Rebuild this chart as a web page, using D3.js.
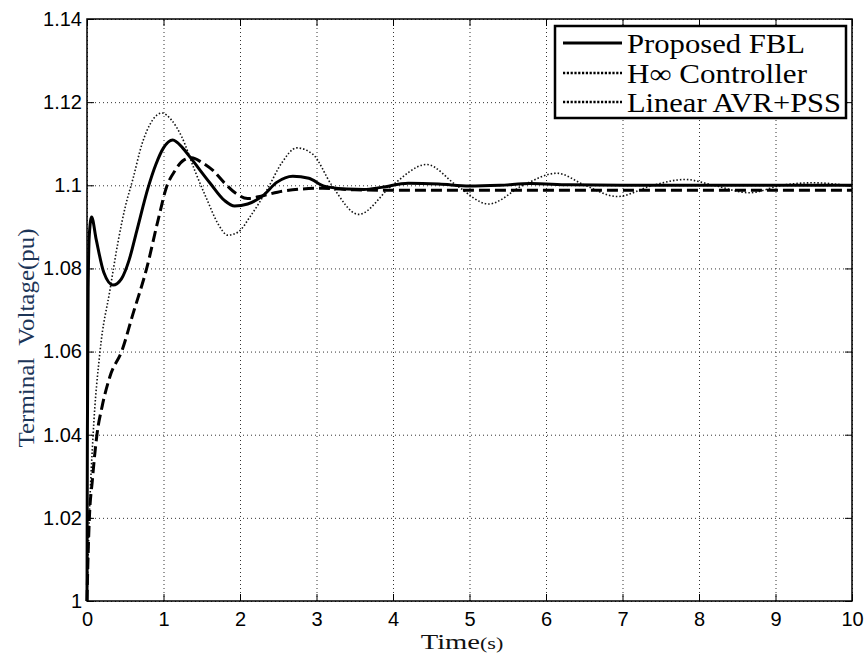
<!DOCTYPE html>
<html>
<head>
<meta charset="utf-8">
<script src="https://cdn.jsdelivr.net/npm/d3@7"></script>
<style>
  body { margin: 0; background: #fff; }
  svg { display: block; }
</style>
</head>
<body>
<div id="chart"></div>
<script>
// terminal voltage response, three controllers

const width = 865;
const height = 654;
const margin = {left: 87, right: 13, top: 19, bottom: 53};

// axis ticks
const xTicks = [0, 1, 2, 3, 4, 5, 6, 7, 8, 9, 10];
const xTickLabels = ["0", "1", "2", "3", "4", "5", "6", "7", "8", "9", "10"];
const yTicks = [1, 1.02, 1.04, 1.06, 1.08, 1.1, 1.12, 1.14];
const yTickLabels = ["1", "1.02", "1.04", "1.06", "1.08", "1.1", "1.12", "1.14"];

// series names (legend order)
const seriesNames = ["Proposed FBL", "H\u221E Controller", "Linear AVR+PSS"];

// Proposed FBL (solid)
const fblT = [0, 0.005, 0.015, 0.03, 0.06, 0.12, 0.22, 0.34, 0.45, 0.55, 0.65, 0.8, 0.9, 1.0, 1.12, 1.25, 1.35, 1.61, 1.8, 1.93, 2.1, 2.3, 2.48, 2.69, 2.9, 3.1, 3.4, 3.62, 3.85, 4.2, 4.6, 5.0, 5.4, 5.8, 6.3, 7, 8, 9, 10];
const fblV = [1.0, 1.04, 1.075, 1.088, 1.0924, 1.087, 1.079, 1.076, 1.0775, 1.082, 1.089, 1.0995, 1.105, 1.109, 1.1109, 1.109, 1.1067, 1.1005, 1.0963, 1.095, 1.0955, 1.0975, 1.1007, 1.1022, 1.1017, 1.0998, 1.0991, 1.099, 1.0995, 1.1005, 1.1003, 1.0998, 1.1, 1.1004, 1.1001, 1.1, 1.1, 1.1, 1.1];

// H-infinity controller (dashed)
const hinfT = [0, 0.01, 0.03, 0.07, 0.13, 0.2, 0.3, 0.46, 0.6, 0.78, 0.93, 1.04, 1.15, 1.26, 1.37, 1.5, 1.65, 1.8, 1.95, 2.1, 2.3, 2.56, 3.08, 3.5, 4, 5, 6, 7, 8, 9, 10];
const hinfV = [1.0, 1.008, 1.0195, 1.029, 1.04, 1.047, 1.054, 1.0604, 1.069, 1.08, 1.0917, 1.0996, 1.1035, 1.106, 1.1066, 1.1055, 1.1035, 1.1005, 1.098, 1.0968, 1.0975, 1.0986, 1.0993, 1.0989, 1.0988, 1.0988, 1.0988, 1.0988, 1.0988, 1.0988, 1.0988];

// Linear AVR+PSS (thin dotted)
const avrT = [0, 0.03, 0.08, 0.17, 0.3, 0.41, 0.5, 0.6, 0.72, 0.85, 0.98, 1.1, 1.24, 1.41, 1.57, 1.72, 1.84, 1.98, 2.13, 2.35, 2.55, 2.74, 2.95, 3.2, 3.55, 3.99, 4.44, 4.83, 5.25, 5.7, 6.14, 6.51, 6.93, 7.4, 7.82, 8.19, 8.66, 9.08, 9.5, 10];
const avrV = [1.0, 1.02, 1.04, 1.06, 1.0748, 1.0868, 1.0948, 1.1015, 1.11, 1.1155, 1.1174, 1.1158, 1.1116, 1.1035, 1.0965, 1.0905, 1.088, 1.0888, 1.0924, 1.0988, 1.1055, 1.109, 1.1075, 1.1, 1.093, 1.1, 1.105, 1.1, 1.0955, 1.1, 1.1029, 1.1, 1.0973, 1.1, 1.1014, 1.1, 1.0982, 1.1, 1.1006, 1.0998];

const svg = d3.select("#chart")
  .append("svg")
  .attr("width", width)
  .attr("height", height);

const x = d3.scaleLinear()
  .domain([0, 10])
  .range([margin.left, width - margin.right]);

const y = d3.scaleLinear()
  .domain([1, 1.14])
  .range([height - margin.bottom, margin.top]);

const plotW = width - margin.left - margin.right;
const plotH = height - margin.top - margin.bottom;

// dotted grid
svg.append("g")
  .attr("transform", `translate(0,${height - margin.bottom})`)
  .call(d3.axisBottom(x).tickValues(xTicks).tickSize(-plotH).tickFormat(""))
  .call(g => g.select(".domain").remove())
  .call(g => g.selectAll("line").attr("stroke", "#333").attr("stroke-width", 1).attr("stroke-dasharray", "1,3"));

svg.append("g")
  .attr("transform", `translate(${margin.left},0)`)
  .call(d3.axisLeft(y).tickValues(yTicks).tickSize(-plotW).tickFormat(""))
  .call(g => g.select(".domain").remove())
  .call(g => g.selectAll("line").attr("stroke", "#333").attr("stroke-width", 1).attr("stroke-dasharray", "1,3"));

// curves
const line = d3.line()
  .x(d => x(d[0]))
  .y(d => y(d[1]))
  .curve(d3.curveMonotoneX);

const avrData = avrT.map((t, i) => [t, avrV[i]]);
const hinfData = hinfT.map((t, i) => [t, hinfV[i]]);
const fblData = fblT.map((t, i) => [t, fblV[i]]);

svg.append("path")
  .datum(avrData)
  .attr("fill", "none")
  .attr("stroke", "#111")
  .attr("stroke-width", 1.6)
  .attr("stroke-dasharray", "1.5,2")
  .attr("d", line);

svg.append("path")
  .datum(hinfData)
  .attr("fill", "none")
  .attr("stroke", "#000")
  .attr("stroke-width", 3)
  .attr("stroke-dasharray", "11,5")
  .attr("d", line);

svg.append("path")
  .datum(fblData)
  .attr("fill", "none")
  .attr("stroke", "#000")
  .attr("stroke-width", 3)
  .attr("d", line);

// axes with inward ticks
svg.append("g")
  .attr("transform", `translate(0,${height - margin.bottom})`)
  .call(d3.axisBottom(x).tickValues(xTicks).tickSizeInner(-7).tickSizeOuter(0).tickPadding(11)
    .tickFormat((d, i) => xTickLabels[i]));

svg.append("g")
  .attr("transform", `translate(${margin.left},0)`)
  .call(d3.axisLeft(y).tickValues(yTicks).tickSizeInner(-7).tickSizeOuter(0).tickPadding(5)
    .tickFormat((d, i) => yTickLabels[i]));

// top and right ticks
svg.append("g")
  .attr("transform", `translate(0,${margin.top})`)
  .call(d3.axisTop(x).tickValues(xTicks).tickSizeInner(-7).tickSizeOuter(0).tickFormat(""));
svg.append("g")
  .attr("transform", `translate(${width - margin.right},0)`)
  .call(d3.axisRight(y).tickValues(yTicks).tickSizeInner(-7).tickSizeOuter(0).tickFormat(""));

svg.selectAll(".domain").remove();
svg.selectAll(".tick text")
  .attr("font-family", "'Liberation Sans', Arial, sans-serif")
  .attr("font-size", "20px")
  .attr("fill", "#000");

// frame
svg.append("rect")
  .attr("x", margin.left)
  .attr("y", margin.top)
  .attr("width", plotW)
  .attr("height", plotH)
  .attr("fill", "none")
  .attr("stroke", "#000")
  .attr("stroke-width", 1.5);

// axis labels
svg.append("text")
  .attr("transform", "translate(34,338) rotate(-90)")
  .attr("text-anchor", "middle")
  .attr("font-family", "'Liberation Serif', 'Times New Roman', serif")
  .attr("font-size", "24px")
  .attr("fill", "#1c3557")
  .attr("textLength", 219)
  .attr("lengthAdjust", "spacingAndGlyphs")
  .style("white-space", "pre")
  .text("Terminal  Voltage(pu)");

const xl = svg.append("text")
  .attr("transform", "translate(462,649) scale(1.3,1)")
  .attr("text-anchor", "middle")
  .attr("font-family", "'Liberation Serif', 'Times New Roman', serif")
  .attr("font-size", "22px")
  .attr("fill", "#111");
xl.append("tspan").text("Time");
xl.append("tspan").attr("font-size", "17px").text("(s)");

// legend
const legend = svg.append("g");
legend.append("rect")
  .attr("x", 555)
  .attr("y", 26)
  .attr("width", 291)
  .attr("height", 92)
  .attr("fill", "#fff")
  .attr("stroke", "#000")
  .attr("stroke-width", 2.5);

const legendStyles = [
  {w: 3, dash: null},
  {w: 2.5, dash: "2.2,1.6"},
  {w: 2.5, dash: "2.2,1.6"}
];
const legendLens = [178, 180, 214];

seriesNames.forEach((name, i) => {
  const ly = 43 + i * 29.5;
  legend.append("line")
    .attr("x1", 563).attr("x2", 622)
    .attr("y1", Math.round(ly)).attr("y2", Math.round(ly))
    .attr("stroke", "#000")
    .attr("stroke-width", legendStyles[i].w)
    .attr("stroke-dasharray", legendStyles[i].dash);
  legend.append("text")
    .attr("x", 627)
    .attr("y", ly + 10)
    .attr("font-family", "'Liberation Serif', 'Times New Roman', serif")
    .attr("font-size", "27px")
    .attr("fill", "#000")
    .attr("textLength", legendLens[i])
    .attr("lengthAdjust", "spacingAndGlyphs")
    .text(name);
});
</script>
</body>
</html>
